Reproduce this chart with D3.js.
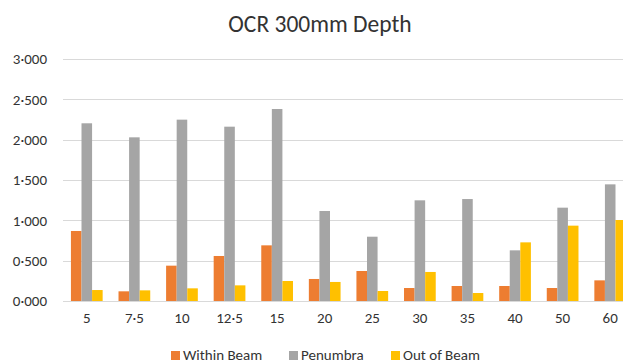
<!DOCTYPE html>
<html>
<head>
<meta charset="utf-8">
<script src="https://cdn.jsdelivr.net/npm/d3@7"></script>
<style>
  body { margin: 0; background: #fff; }
  svg text { font-family: Calibri, Carlito, Lato, sans-serif; fill: #333; }
</style>
</head>
<body>
<div class="chart"></div>
<script>
// depth categories (cm), shown with a raised decimal point
const categories = ['5', '7·5', '10', '12·5', '15', '20', '25', '30', '35', '40', '50', '60']
const seriesNames = ['Within Beam', 'Penumbra', 'Out of Beam']
const withinBeam = [0.868, 0.120, 0.438, 0.558, 0.690, 0.273, 0.372, 0.161, 0.186, 0.186, 0.161, 0.256]
const penumbra   = [2.203, 2.029, 2.248, 2.161, 2.380, 1.116, 0.797, 1.248, 1.264, 0.628, 1.157, 1.446]
const outOfBeam  = [0.136, 0.132, 0.157, 0.194, 0.248, 0.236, 0.124, 0.360, 0.099, 0.727, 0.934, 1.004]
const yTicks = [0, 0.5, 1, 1.5, 2, 2.5, 3]
const colors = ['#ED7D31', '#A5A5A5', '#FFC000']

const width = 623
const height = 364
const margin = { top: 59, right: -11, bottom: 63, left: 63 }

const series = [withinBeam, penumbra, outOfBeam]
const rows = categories.map((c, i) => ({ cat: c, values: series.map(s => s[i]) }))

const svg = d3.select('.chart').append('svg')
  .attr('width', width)
  .attr('height', height)

const x = d3.scaleBand()
  .domain(categories)
  .range([margin.left, width - margin.right])
  .paddingInner(1 / 3)
  .paddingOuter(1 / 6)

const xSub = d3.scaleBand()
  .domain(d3.range(seriesNames.length))
  .range([0, x.bandwidth()])

const y = d3.scaleLinear()
  .domain([0, 3])
  .range([height - margin.bottom, margin.top])

const fmt = d => d3.format('.3f')(d).replace('.', '·')

// gridlines
svg.append('g')
  .selectAll('line')
  .data(yTicks)
  .join('line')
  .attr('x1', margin.left)
  .attr('x2', width)
  .attr('y1', d => Math.round(y(d)) + 0.5)
  .attr('y2', d => Math.round(y(d)) + 0.5)
  .attr('stroke', '#D9D9D9')
  .attr('stroke-width', 1)

// y axis labels
const yAxis = svg.append('g')
  .attr('transform', `translate(${margin.left}, 0)`)
  .call(d3.axisLeft(y).tickValues(yTicks).tickFormat(fmt).tickSize(0).tickPadding(16))
yAxis.select('.domain').remove()
yAxis.selectAll('text').style('font-size', '15px').attr('fill', '#333')

// bars
const groups = svg.append('g')
  .selectAll('g')
  .data(rows)
  .join('g')
  .attr('transform', d => `translate(${x(d.cat)}, 0)`)

groups.selectAll('rect')
  .data(d => d.values)
  .join('rect')
  .attr('x', (d, i) => xSub(i))
  .attr('width', xSub.bandwidth())
  .attr('y', d => y(d))
  .attr('height', d => y(0) - y(d))
  .attr('fill', (d, i) => colors[i])

// x axis labels
const xAxis = svg.append('g')
  .attr('transform', `translate(0, ${y(0)})`)
  .call(d3.axisBottom(x).tickSize(0).tickPadding(11))
xAxis.select('.domain').remove()
xAxis.selectAll('text').style('font-size', '15px').attr('fill', '#333')

// title
svg.append('text')
  .attr('x', 320)
  .attr('y', 32)
  .attr('text-anchor', 'middle')
  .style('font-size', '23.5px')
  .text('OCR 300mm Depth')

// legend
const legendX = [171, 289, 391]
const legend = svg.append('g')
  .selectAll('g')
  .data(seriesNames)
  .join('g')
  .attr('transform', (d, i) => `translate(${legendX[i]}, 351)`)

legend.append('rect')
  .attr('width', 9)
  .attr('height', 9)
  .attr('fill', (d, i) => colors[i])

legend.append('text')
  .attr('x', 12)
  .attr('y', 9)
  .style('font-size', '15px')
  .text(d => d)
</script>
</body>
</html>
